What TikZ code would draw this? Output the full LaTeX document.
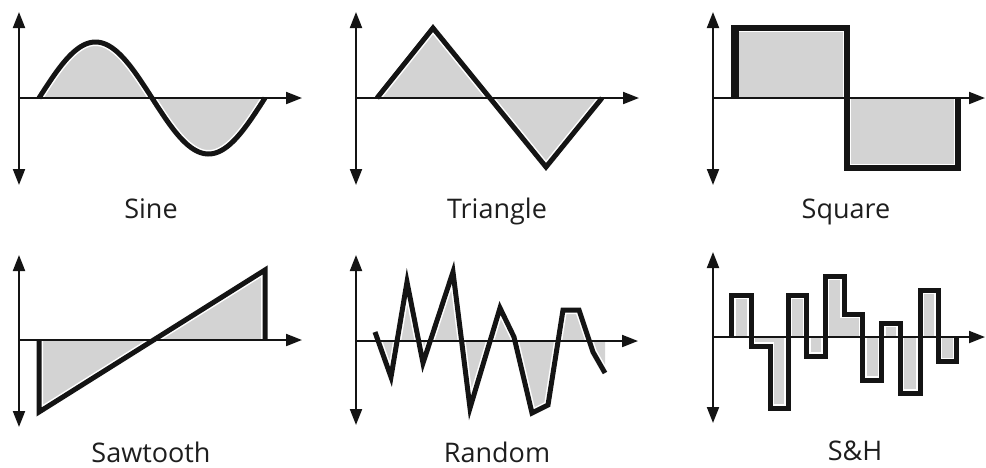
\documentclass[tikz,border=0pt]{standalone}
\usepackage{fontspec}
\setmainfont{Open Sans}
\usetikzlibrary{arrows.meta}
\definecolor{wavefill}{RGB}{211,211,211}
\definecolor{ink}{RGB}{20,20,20}
\definecolor{labelc}{RGB}{30,30,30}
\tikzset{
  tip/.tip={Triangle[length=16pt,width=12pt]},
  haxis/.style={line width=2pt, draw=ink, -tip},
  vaxis/.style={line width=2pt, draw=ink, tip-tip},
  wave/.style={line width=5pt, draw=ink, line join=miter, miter limit=10},
  halo/.style={line width=8pt, draw=white, line join=miter, miter limit=10},
  area/.style={fill=wavefill},
  lbl/.style={font=\fontsize{27}{30}\selectfont, text=labelc, anchor=base, inner sep=0pt}
}
\begin{document}
\begin{tikzpicture}[x=1pt,y=-1pt]
\useasboundingbox (0,0) rectangle (986,467);

% ---------- Sine ----------
\fill[area] plot[domain=0:360,samples=120] ({39+0.627778*\x},{98-56*sin(\x)}) -- cycle;
\draw[halo] plot[domain=0:360,samples=120] ({39+0.627778*\x},{98-56*sin(\x)});
\draw[wave] plot[domain=0:360,samples=120] ({39+0.627778*\x},{98-56*sin(\x)});
\draw[vaxis] (19,12) -- (19,185);
\draw[haxis] (19,98) -- (302,98);
\node[lbl] (sine) at (151,218) {Sine};

% ---------- Triangle ----------
\fill[area] (377,98) -- (433,28) -- (546,167) -- (602,98) -- cycle;
\draw[halo] (377,98) -- (433,28) -- (546,167) -- (602,98);
\draw[wave] (377,98) -- (433,28) -- (546,167) -- (602,98);
\draw[vaxis] (356,12) -- (356,185);
\draw[haxis] (356,98) -- (639,98);
\node[lbl] (triangle) at (497,218) {Triangle};

% ---------- Square ----------
\fill[area] (734,98) -- (734,28) -- (847,28) -- (847,168) -- (958,168) -- (958,98) -- cycle;
\draw[halo,line width=8.5pt] (734,98) -- (734,28) -- (847,28) -- (847,168) -- (958,168) -- (958,98);
\draw[wave,line width=5.5pt] (734,98) -- (734,28) -- (847,28) -- (847,168) -- (958,168) -- (958,98);
\draw[ink,line width=8pt] (735,98) -- (735,25);
\draw[vaxis] (713,12) -- (713,185);
\draw[haxis] (713,98) -- (985,98);
\node[lbl] (square) at (846,218) {Square};

% ---------- Sawtooth ----------
\fill[area] (39,340) -- (39,412) -- (265,270) -- (265,340) -- cycle;
\draw[halo] (39,340) -- (39,412) -- (265,270) -- (265,340);
\draw[wave] (39,340) -- (39,412) -- (265,270) -- (265,340);
\draw[vaxis] (19,255) -- (19,427);
\draw[haxis] (19,340) -- (302,340);
\node[lbl] (sawtooth) at (151,462) {Sawtooth};

% ---------- Random ----------
\def\randpts{(375,332) -- (391,377) -- (407,282) -- (423,363) -- (453,272) -- (470,408) -- (500,308) -- (514,337) -- (532,413) -- (548,405) -- (563,310) -- (579,310) -- (593,352) -- (605,373)}
\fill[area] (375,341) -- \randpts -- (605,341) -- cycle;
\draw[halo] \randpts;
\draw[wave] \randpts;
\draw[vaxis] (356,255) -- (356,425);
\draw[haxis] (356,341) -- (638,341);
\node[lbl] (random) at (497,462) {Random};

% ---------- S&H ----------
\def\shpts{(731.7,337) -- (731.7,295) -- (751,295) -- (751,346) -- (770,346) -- (770,408.3) -- (788.3,408.3) -- (788.3,295) -- (806.7,295) -- (806.7,356) -- (825,356) -- (825,276) -- (844,276) -- (844,314) -- (862.7,314) -- (862.7,380) -- (881.7,380) -- (881.7,323.3) -- (900,323.3) -- (900,393.3) -- (920,393.3) -- (920,290) -- (938.3,290) -- (938.3,361.7) -- (956.7,361.7) -- (956.7,337)}
\fill[area] \shpts -- cycle;
\draw[halo] \shpts;
\draw[wave] \shpts;
\draw[vaxis] (713,252) -- (713,423);
\draw[haxis] (713,337) -- (985,337);
\node[lbl] (sh) at (855,460) {S\&H};
\end{tikzpicture}
\end{document}
